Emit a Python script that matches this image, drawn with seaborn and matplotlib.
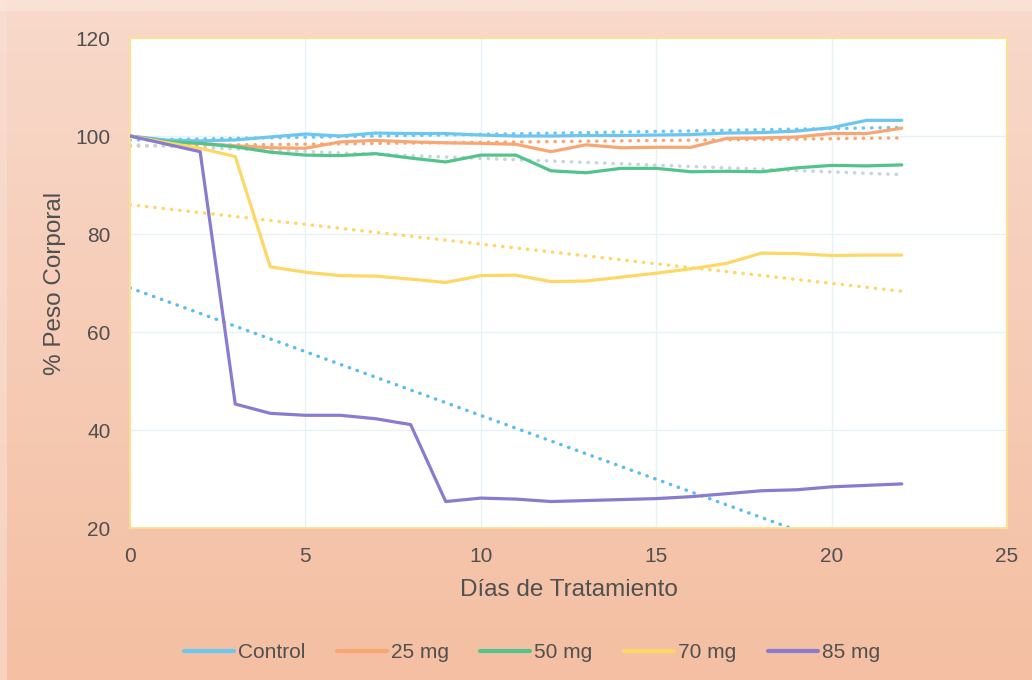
import numpy as np
import pandas as pd
import matplotlib
matplotlib.use("Agg")
import matplotlib.pyplot as plt
import seaborn as sns
from matplotlib.patches import Rectangle

# ---- data ----
days = list(range(23))
control = [100, 99.2, 99.0, 99.2, 99.8, 100.4, 100.0, 100.6, 100.5, 100.5, 100.2, 100.0,
           100.0, 100.1, 100.1, 100.2, 100.3, 100.6, 100.7, 101.0, 101.7, 103.2, 103.2]
mg25 = [100, 98.8, 98.5, 98.0, 97.6, 97.5, 98.8, 99.1, 98.8, 98.6, 98.5, 98.3,
        96.8, 98.2, 97.6, 97.7, 97.7, 99.5, 99.6, 99.8, 100.5, 100.5, 101.6]
mg50 = [100, 98.9, 98.5, 97.8, 96.7, 96.1, 96.0, 96.4, 95.5, 94.7, 96.1, 96.1,
        92.9, 92.5, 93.4, 93.4, 92.7, 92.8, 92.7, 93.5, 94.0, 93.9, 94.1]
mg70 = [100, 98.7, 97.5, 95.8, 73.3, 72.2, 71.5, 71.4, 70.8, 70.1, 71.5, 71.6,
        70.3, 70.4, 71.2, 72.0, 72.9, 74.0, 76.1, 76.0, 75.6, 75.7, 75.7]
mg85 = [100, 98.4, 96.8, 45.3, 43.4, 43.0, 43.0, 42.3, 41.1, 25.4, 26.1, 25.9,
        25.4, 25.6, 25.8, 26.0, 26.4, 27.0, 27.6, 27.8, 28.4, 28.7, 29.0]
series_names = ["Control", "25 mg", "50 mg", "70 mg", "85 mg"]
series_vals = [control, mg25, mg50, mg70, mg85]
line_colors = ["#6DC6F0", "#F9A772", "#52C48B", "#FDD867", "#8A7BD0"]
trend_colors = ["#6DC6F0", "#F9A772", "#C8D4DA", "#FDD867", "#5BBDEB"]
xticks = [0, 5, 10, 15, 20, 25]
yticks = [20, 40, 60, 80, 100, 120]

df = pd.DataFrame({
    "Día": np.tile(days, len(series_names)),
    "Peso": np.concatenate(series_vals),
    "Grupo": np.repeat(series_names, len(days)),
})

sns.set_theme(style="white")
plt.rcParams["font.family"] = ["Liberation Sans", "DejaVu Sans"]

W, H = 1032, 680
fig = plt.figure(figsize=(W / 100, H / 100), dpi=100)

# background gradient
bg = fig.add_axes([0, 0, 1, 1], zorder=-10)
top = np.array(matplotlib.colors.to_rgb("#F8D9CB"))
bot = np.array(matplotlib.colors.to_rgb("#F4BFA2"))
t = np.linspace(0, 1, 256)[:, None]
grad = (top[None, :] * (1 - t) + bot[None, :] * t)[:, None, :]
bg.imshow(grad, aspect="auto", extent=[0, 1, 0, 1], origin="upper")
bg.add_patch(Rectangle((0, 0), 7 / W, 1, color="#F9E0D4", alpha=0.6, zorder=2, lw=0))
bg.add_patch(Rectangle((0, 1 - 11 / H), 1, 11 / H, color="#FBE6DC", alpha=0.7, zorder=2, lw=0))
bg.set_xlim(0, 1)
bg.set_ylim(0, 1)
bg.axis("off")

ax = fig.add_axes([130 / W, 1 - 528 / H, (1007 - 130) / W, (528 - 38) / H])
ax.set_facecolor("white")

sns.lineplot(data=df, x="Día", y="Peso", hue="Grupo", hue_order=series_names,
             palette=line_colors, linewidth=2.3, ax=ax, legend=True, zorder=3)

for name, vals, c in zip(series_names, series_vals, trend_colors):
    sns.regplot(x=np.array(days, dtype=float), y=np.array(vals), scatter=False, ci=None,
                truncate=True, ax=ax, color=c,
                line_kws=dict(linestyle=(0, (0.1, 2.3)), linewidth=2.5,
                              dash_capstyle="round", zorder=2))

ax.set_xlim(0, 25)
ax.set_ylim(20, 120)
ax.set_xticks(xticks)
ax.set_yticks(yticks)
ax.grid(True, color="#E6F2F5", linewidth=1.0)
ax.set_axisbelow(True)
for s in ax.spines.values():
    s.set_color("#FFE08A")
    s.set_linewidth(1.3)
ax.tick_params(axis="y", length=0, labelsize=15, colors="#505050", pad=14)
ax.tick_params(axis="x", length=0, labelsize=15, colors="#505050", pad=14)
ax.set_xlabel("Días de Tratamiento", fontsize=17.5, color="#505050", labelpad=9)
ax.set_ylabel("% Peso Corporal", fontsize=17.5, color="#505050", labelpad=7)

handles, labels = ax.get_legend_handles_labels()
ax.get_legend().remove()
for h in handles:
    h.set_linewidth(3)
fig.legend(handles[:5], labels[:5], loc="center", bbox_to_anchor=(532 / W, 1 - 653 / H),
           ncol=5, frameon=False, fontsize=15, handlelength=2.4, handletextpad=0.2,
           columnspacing=1.5, labelcolor="#505050")

fig.savefig("out.png", dpi=100)
